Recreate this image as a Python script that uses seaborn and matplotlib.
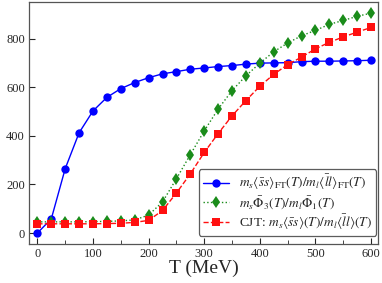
import numpy as np
import pandas as pd
import seaborn as sns
import matplotlib.pyplot as plt
from matplotlib.ticker import MultipleLocator

# temperature grid (MeV)
T = [0, 25, 50, 75, 100, 125, 150, 175, 200, 225, 250, 275, 300,
     325, 350, 375, 400, 425, 450, 475, 500, 525, 550, 575, 600]

# FT condensate ratio
ratio_ft = [0, 58, 265, 413, 503, 559, 595, 620, 640, 656, 665, 675, 680,
            686, 690, 696, 700, 701, 702, 706, 708, 708, 709, 710, 712]

# Phi_3 / Phi_1 ratio
ratio_phi = [46, 46, 46, 46, 47, 48, 50, 54, 74, 128, 224, 323, 421,
             511, 587, 648, 700, 747, 783, 813, 835, 860, 876, 893, 906]

# CJT condensate ratio
ratio_cjt = [38, 38, 38, 38, 38, 39, 40, 44, 52, 93, 165, 244, 332,
             410, 483, 546, 605, 654, 694, 725, 759, 786, 808, 828, 847]

labels = [r'$m_s\langle\bar{s}s\rangle_{\rm FT}(T)/m_l\langle\bar{l}l\rangle_{\rm FT}(T)$',
          r'$m_s\bar{\Phi}_3(T)/m_l\bar{\Phi}_1(T)$',
          r'CJT: $m_s\langle\bar{s}s\rangle(T)/m_l\langle\bar{l}l\rangle(T)$']

sns.set_style('ticks')
plt.rcParams['font.family'] = ['Liberation Serif', 'DejaVu Serif']
plt.rcParams['mathtext.fontset'] = 'stix'

fig = plt.figure(figsize=(3.82, 2.83), dpi=100)
ax = fig.add_axes([0.076, 0.138, 0.913, 0.855])

sns.lineplot(x=T, y=ratio_ft, ax=ax, color='#0000ff', linestyle='-', lw=1.0,
             marker='o', markersize=6, markeredgewidth=0, label=labels[0])
sns.lineplot(x=T, y=ratio_phi, ax=ax, color='#1a8c1a', linestyle=':', lw=1.0,
             marker='d', markersize=6, markeredgewidth=0, label=labels[1])
sns.lineplot(x=T, y=ratio_cjt, ax=ax, color='#ff1010', linestyle='--', lw=1.0,
             marker='s', markersize=5.5, markeredgewidth=0, label=labels[2])

ax.set_xlim(-15, 612)
ax.set_ylim(-45, 952)
ax.xaxis.set_major_locator(MultipleLocator(100))
ax.xaxis.set_minor_locator(MultipleLocator(50))
ax.yaxis.set_major_locator(MultipleLocator(200))
ax.tick_params(direction='in', labelsize=9, length=4, pad=3)
ax.tick_params(which='minor', direction='in', length=3)
for s in ax.spines.values():
    s.set_color('#555555')
    s.set_linewidth(0.9)

ax.set_xlabel('T (MeV)', fontsize=14, labelpad=0)
ax.set_ylabel('')

leg = ax.legend(loc='lower right', fontsize=9.6, frameon=True, fancybox=True,
                edgecolor='#333333', handlelength=2.0, handletextpad=0.75,
                borderpad=0.3, labelspacing=0.12, borderaxespad=0.1,
                bbox_to_anchor=(1.0, 0.028))
leg.get_frame().set_linewidth(0.9)

fig.savefig('out.png', dpi=100)
